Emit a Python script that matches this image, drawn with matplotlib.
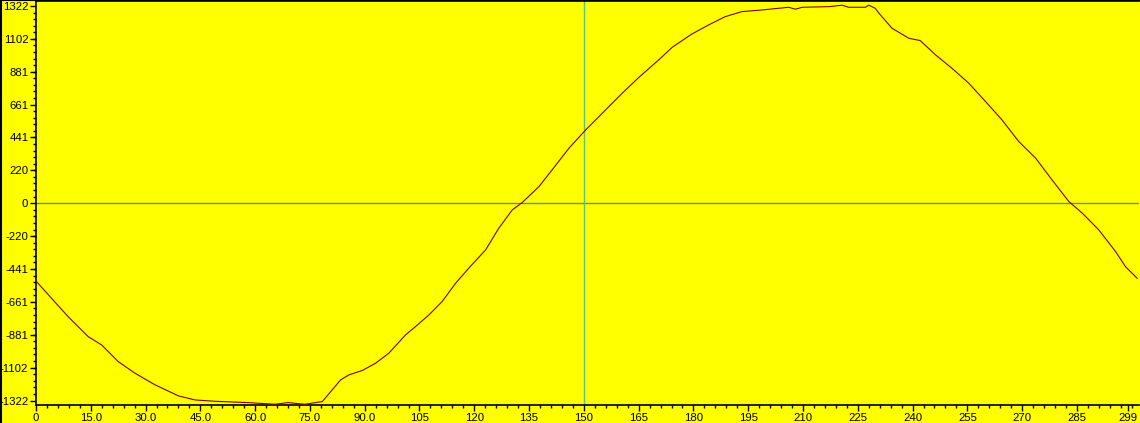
import numpy as np
import matplotlib
matplotlib.use("Agg")
import matplotlib.pyplot as plt
from matplotlib.ticker import FixedLocator, MultipleLocator
from matplotlib.lines import Line2D

# values (sample index, amplitude)
t = [0, 3.4, 8.8, 14.3, 18, 22.5, 27.1, 32.6, 39, 43.5, 49, 58.1, 65.4, 69,
     73.6, 78.4, 83.4, 85.7, 89.3, 93, 96.6, 101.2, 103.9, 107.6, 111.2,
     114.9, 118.5, 123.1, 126.7, 130.4, 133.1, 137.7, 141.3, 145.9, 150.5,
     155.5, 160.5, 165.1, 170.5, 174.2, 179.6, 184.2, 188.7, 193.3, 198.8,
     206.1, 207.9, 209.8, 217.1, 220.7, 222.5, 227.1, 228, 229.8, 230.8,
     234.4, 239, 242.1, 246.3, 250.8, 255.4, 260, 264.5, 269.1, 273.7,
     278.2, 282.8, 286.5, 291, 295.6, 298.3, 301.5]
v = [-521, -614, -760, -894, -950, -1061, -1139, -1217, -1291, -1318, -1327,
     -1336, -1347, -1336, -1347, -1329, -1184, -1150, -1121, -1072, -1005,
     -882, -827, -748, -659, -536, -435, -313, -168, -45, 4, 111, 223, 368,
     491, 614, 737, 844, 960, 1045, 1134, 1195, 1250, 1284, 1295, 1313, 1300,
     1313, 1317, 1327, 1313, 1313, 1327, 1306, 1273, 1172, 1105, 1090, 994,
     904, 804, 681, 558, 413, 302, 156, 11, -67, -179, -324, -425, -503]

ytick_vals = [1322, 1102, 881, 661, 441, 220, 0, -220, -441, -661, -881, -1102, -1322]
xtick_vals = [0, 15, 30, 45, 60, 75, 90, 105, 120, 135, 150, 165, 180, 195,
              210, 225, 240, 255, 270, 285, 299]
xtick_labels = ["0", "15.0", "30.0", "45.0", "60.0", "75.0", "90.0", "105",
                "120", "135", "150", "165", "180", "195", "210", "225", "240",
                "255", "270", "285", "299"]
cursor_x = 150

fig = plt.figure(figsize=(11.4, 4.23), dpi=100, facecolor="#ffff00")
ax = fig.add_axes([36 / 1140, 1 - 405 / 423, 1103 / 1140, 404 / 423])
ax.set_facecolor("#ffff00")

ax.axhline(0, color="#808080", lw=1.0, zorder=1)
ax.axvline(cursor_x, color="#30c8e0", lw=1.0, zorder=1)
ax.plot(t, v, color="#800000", lw=0.8, zorder=3)

ax.set_xlim(0, 302)
ax.set_ylim(-1352, 1355)

ax.yaxis.set_major_locator(FixedLocator(ytick_vals))
ax.set_yticklabels([str(x) for x in ytick_vals])
ax.yaxis.set_minor_locator(MultipleLocator(1322 / 30))
ax.xaxis.set_major_locator(FixedLocator(xtick_vals))
ax.set_xticklabels(xtick_labels)
ax.xaxis.set_minor_locator(MultipleLocator(3))

ax.tick_params(which="major", length=4.5, width=1, color="black",
               labelsize=8.2, pad=1)
ax.tick_params(which="minor", length=2.5, width=1, color="black")
for lab in ax.get_xticklabels() + ax.get_yticklabels():
    lab.set_family("Liberation Sans")

ax.spines["right"].set_visible(False)
for side in ["left", "bottom", "top"]:
    ax.spines[side].set_color("black")
    ax.spines[side].set_linewidth(1.2)

# outer frame of the window on left and top
fig.add_artist(Line2D([0.001, 0.001], [0, 1], transform=fig.transFigure,
                      color="black", lw=1.5))
fig.add_artist(Line2D([0, 1], [0.999, 0.999], transform=fig.transFigure,
                      color="black", lw=1.5))

fig.savefig("out.png", dpi=100, facecolor=fig.get_facecolor())
